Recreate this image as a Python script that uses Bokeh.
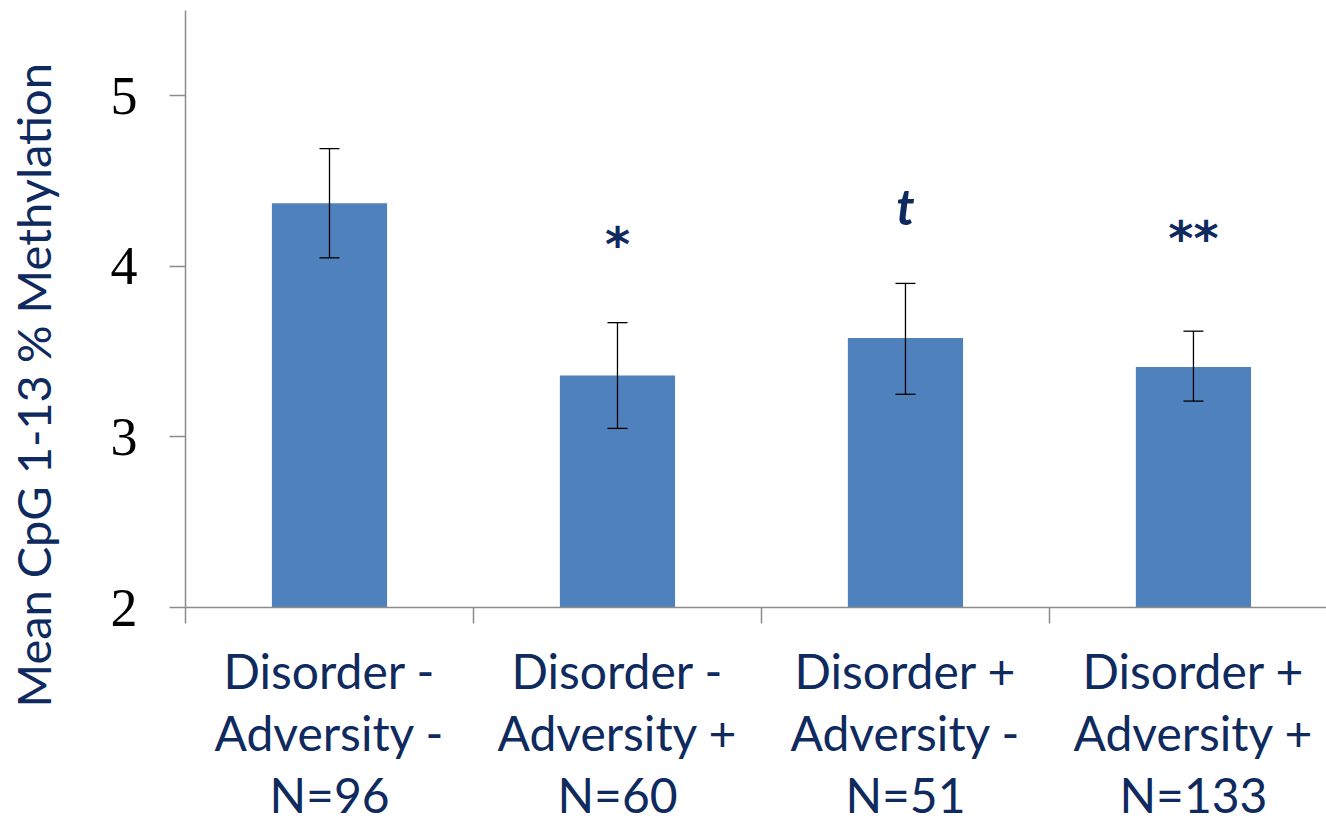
from bokeh.plotting import figure
from bokeh.models import ColumnDataSource, Whisker, FixedTicker, Range1d, TeeHead, Title
from bokeh.core.properties import value
from bokeh.embed import file_html
from bokeh.resources import INLINE

categories = ["Disorder -\nAdversity -\nN=96", "Disorder -\nAdversity +\nN=60",
              "Disorder +\nAdversity -\nN=51", "Disorder +\nAdversity +\nN=133"]
means = [4.37, 3.36, 3.58, 3.41]
upper = [4.69, 3.67, 3.90, 3.62]
lower = [4.05, 3.05, 3.25, 3.21]
star_marks = ["*", "**"]
star_y = [4.13, 4.165]
star_cat = [1, 3]
t_marks = ["t"]
t_y = [4.353]
t_cat = [2]
y_title = "Mean CpG 1-13 % Methylation"

NAVY = "#0E2A5E"
AXIS = "#8C8C8C"

xs = [i + 0.5 for i in range(len(categories))]
src = ColumnDataSource(dict(x=xs, top=means, upper=upper, lower=lower))

p = figure(width=1326, height=825, output_backend="svg", toolbar_location=None,
           x_range=Range1d(0, 3.962), y_range=Range1d(2, 5.5),
           min_border_left=185, min_border_right=0, min_border_top=10, min_border_bottom=0)
p.outline_line_color = None
p.grid.visible = False

p.vbar(x="x", top="top", bottom=2, width=0.4, source=src, fill_color="#4F81BD", line_color=None)
w = Whisker(base="x", upper="upper", lower="lower", source=src, line_color="black", line_width=1.3,
            upper_head=TeeHead(size=20, line_color="black", line_width=1.3),
            lower_head=TeeHead(size=20, line_color="black", line_width=1.3), level="annotation")
p.add_layout(w)

p.text(x=[xs[i] for i in star_cat], y=star_y, text=star_marks, text_align="center", text_baseline="middle",
       text_font=value("DejaVu Sans"), text_font_size="48px", text_font_style="bold italic", text_color=NAVY)
p.text(x=[xs[i] for i in t_cat], y=t_y, text=t_marks, text_align="center", text_baseline="middle",
       text_font=value("Lato"), text_font_size="50px", text_font_style="bold italic", text_color=NAVY)

# x axis
p.xaxis.ticker = FixedTicker(ticks=xs, minor_ticks=[0, 1, 2, 3, 4])
p.xaxis.major_label_overrides = {x: c for x, c in zip(xs, categories)}
p.xaxis.major_tick_out = 0
p.xaxis.major_tick_in = 0
p.xaxis.minor_tick_out = 16
p.xaxis.minor_tick_in = 0
p.xaxis.minor_tick_line_color = AXIS
p.xaxis.minor_tick_line_width = 1.5
p.xaxis.axis_line_color = AXIS
p.xaxis.axis_line_width = 1.5
p.xaxis.major_label_text_font = "Lato"
p.xaxis.major_label_text_font_size = "48px"
p.xaxis.major_label_text_color = NAVY
p.xaxis.major_label_text_line_height = 1.09
p.xaxis.major_label_standoff = 18

# y axis
p.yaxis.ticker = FixedTicker(ticks=[2, 3, 4, 5], minor_ticks=[])
p.yaxis.major_tick_out = 16
p.yaxis.major_tick_in = 0
p.yaxis.major_tick_line_color = AXIS
p.yaxis.major_tick_line_width = 1.5
p.yaxis.axis_line_color = AXIS
p.yaxis.axis_line_width = 1.5
p.yaxis.major_label_text_font = "Liberation Serif"
p.yaxis.major_label_text_font_size = "54px"
p.yaxis.major_label_text_color = "black"
p.yaxis.major_label_standoff = 32
# blank axis label used only as a spacer between tick labels and the title
p.yaxis.axis_label = " "
p.yaxis.axis_label_text_font_size = "2px"
p.yaxis.axis_label_standoff = 42

title = Title(text=y_title, align="left", offset=-100, text_font="Lato", text_font_size="47px",
              text_font_style="normal", text_color=NAVY, standoff=0)
p.add_layout(title, "left")

open("out.html", "w").write(file_html(p, INLINE))
